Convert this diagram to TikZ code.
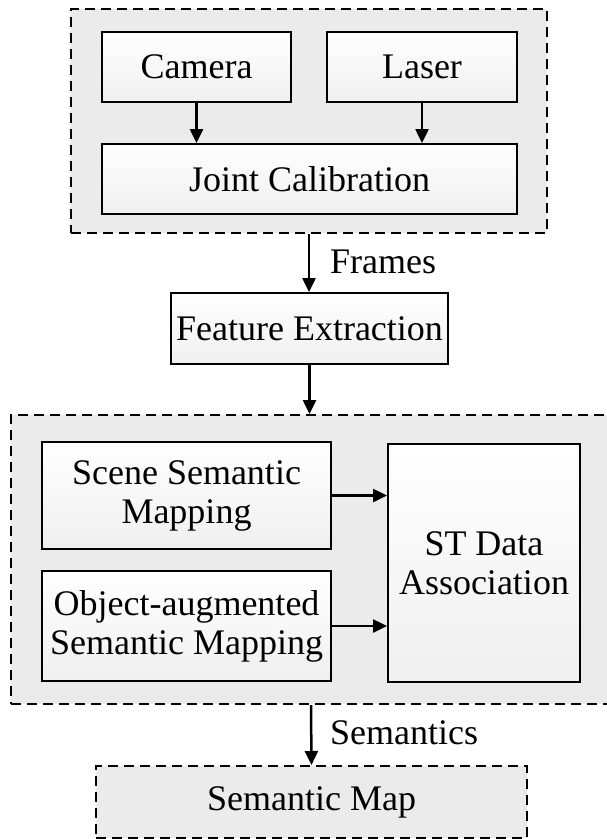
\documentclass[tikz,border=0pt]{standalone}
\usepackage{fontspec}
\setmainfont{Liberation Serif}
\usetikzlibrary{arrows.meta}
\begin{document}
\begin{tikzpicture}[x=1pt,y=-1pt,
  every node/.style={font=\fontsize{36}{39}\selectfont},
  box/.style={draw=black, line width=2pt, top color=white, bottom color=gray!12, anchor=north west, inner sep=0pt, align=center},
  group/.style={draw=black, line width=2pt, dash pattern=on 10pt off 6pt, fill=gray!16, anchor=north west, inner sep=0pt},
  arr/.style={line width=2.5pt, -{Triangle[length=14pt,width=13pt]}},
  lab/.style={anchor=west, inner sep=0pt}]
\useasboundingbox (0,0) rectangle (607,839);
\clip (0,0) rectangle (607,839);
% groups
\node[group, minimum width=476, minimum height=224] (g1) at (70,8) {};
\node[group, minimum width=600, minimum height=289] (g2) at (10,414) {};
% top group
\node[box, minimum width=189, minimum height=70] (cam) at (101,31) {Camera};
\node[box, minimum width=190, minimum height=70] (las) at (326,31) {Laser};
\node[box, minimum width=415, minimum height=70] (jc) at (101,143) {Joint Calibration};
\draw[arr] (cam.south) -- (cam.south |- jc.north);
\draw[arr] (las.south) -- (las.south |- jc.north);
% feature extraction
\node[box, minimum width=277, minimum height=71] (fe) at (170,292) {Feature Extraction};
\draw[arr] (g1.south) -- (g1.south |- fe.north);
\node[lab] (frames) at (330,262) {Frames};
\draw[arr] (fe.south) -- (fe.south |- g2.north);
% second group
\node[box, minimum width=289, minimum height=107] (ssm) at (41,441) {Scene Semantic\\Mapping};
\node[box, minimum width=289, minimum height=110] (oasm) at (41,570) {Object-augmented\\Semantic Mapping};
\node[box, minimum width=192, minimum height=238] (st) at (387,443) {ST Data\\Association};
\draw[arr] (ssm.east) -- (ssm.east -| st.west);
\draw[arr] (oasm.east) -- (oasm.east -| st.west);
% semantic map
\node[group, minimum width=431, minimum height=72] (sm) at (95,765) {};
\node at (sm.center) (smt) {Semantic Map};
\draw[arr] (g2.south) -- (sm.north);
\node[lab] (sem) at (330,733) {Semantics};
\end{tikzpicture}
\end{document}
